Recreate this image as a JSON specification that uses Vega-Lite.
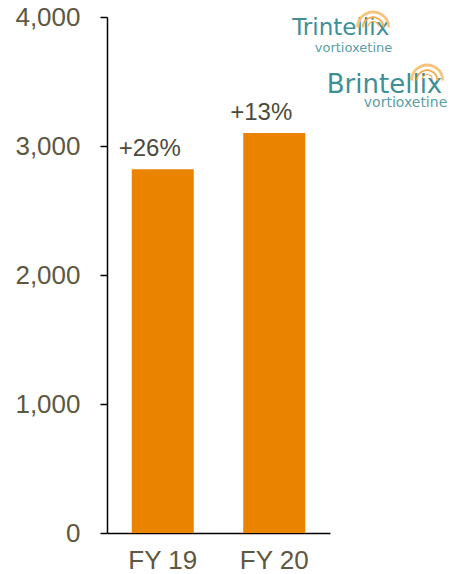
{
  "$schema": "https://vega.github.io/schema/vega-lite/v6.json",
  "width": 223,
  "height": 516,
  "autosize": "none",
  "padding": {"left": 107, "top": 17, "right": 124, "bottom": 41},
  "background": "white",
  "config": {"view": {"stroke": null}, "font": "Liberation Sans"},
  "data": {"values": [
    {"year": "FY 19", "value": 2820, "growth": "+26%"},
    {"year": "FY 20", "value": 3100, "growth": "+13%"}
  ]},
  "encoding": {
    "x": {"field": "year", "type": "nominal", "sort": null,
      "scale": {"paddingInner": 0, "paddingOuter": 0},
      "axis": {"title": null, "labelAngle": 0, "ticks": false, "labelFontSize": 26, "labelColor": "#5e5741", "labelPadding": 14, "domainColor": "#000000", "domainWidth": 1.5}},
    "y": {"field": "value", "type": "quantitative",
      "scale": {"domain": [0, 4000], "nice": false},
      "axis": {"title": null, "values": [0, 1000, 2000, 3000, 4000], "format": ",.0f", "grid": false, "tickSize": 7, "tickColor": "#000000", "tickWidth": 1.5, "domainColor": "#000000", "domainWidth": 1.5, "labelPadding": 20, "labelFontSize": 26, "labelColor": "#5e5741"}}
  },
  "layer": [
    {"mark": {"type": "bar", "color": "#E98300", "size": 62}},
    {"mark": {"type": "text", "baseline": "alphabetic", "dy": -13, "dx": -13, "fontSize": 24, "color": "#4b4a3c"},
      "encoding": {"text": {"field": "growth"}}},
    {"data": {"values": [{"year": "FY 20", "value": 3860, "t": "Trintellix"}]},
      "mark": {"type": "text", "align": "right", "baseline": "alphabetic", "dx": 115, "fontSize": 23, "font": "DejaVu Sans", "color": "#3e8f98"},
      "encoding": {"text": {"field": "t"}}},
    {"data": {"values": [{"year": "FY 20", "value": 3729, "t": "vortioxetine"}]},
      "mark": {"type": "text", "align": "right", "baseline": "alphabetic", "dx": 118, "fontSize": 13, "font": "DejaVu Sans", "color": "#5a9ea6"},
      "encoding": {"text": {"field": "t"}}},
    {"data": {"values": [{"year": "FY 20", "value": 3411, "t": "Brintellix"}]},
      "mark": {"type": "text", "align": "right", "baseline": "alphabetic", "dx": 168, "fontSize": 26, "font": "DejaVu Sans", "color": "#3e8f98"},
      "encoding": {"text": {"field": "t"}}},
    {"data": {"values": [{"year": "FY 20", "value": 3302, "t": "vortioxetine"}]},
      "mark": {"type": "text", "align": "right", "baseline": "alphabetic", "dx": 173, "fontSize": 14, "font": "DejaVu Sans", "color": "#5a9ea6"},
      "encoding": {"text": {"field": "t"}}},
    {"data": {"values": [{"year": "FY 20", "value": 3930, "t": "◠"}]},
      "mark": {"type": "text", "baseline": "middle", "dx": 99, "fontSize": 14, "font": "DejaVu Sans", "color": "#f39a1e"},
      "encoding": {"text": {"field": "t"}}},
    {"data": {"values": [{"year": "FY 20", "value": 3930, "t": "◠"}]},
      "mark": {"type": "text", "baseline": "middle", "dx": 99, "fontSize": 29, "font": "DejaVu Sans", "color": "#f6a83e"},
      "encoding": {"text": {"field": "t"}}},
    {"data": {"values": [{"year": "FY 20", "value": 3930, "t": "◠"}]},
      "mark": {"type": "text", "baseline": "middle", "dx": 99, "fontSize": 44, "font": "DejaVu Sans", "color": "#f9c27a"},
      "encoding": {"text": {"field": "t"}}},
    {"data": {"values": [{"year": "FY 20", "value": 3520, "t": "◠"}]},
      "mark": {"type": "text", "baseline": "middle", "dx": 153, "fontSize": 14, "font": "DejaVu Sans", "color": "#f39a1e"},
      "encoding": {"text": {"field": "t"}}},
    {"data": {"values": [{"year": "FY 20", "value": 3520, "t": "◠"}]},
      "mark": {"type": "text", "baseline": "middle", "dx": 153, "fontSize": 29, "font": "DejaVu Sans", "color": "#f6a83e"},
      "encoding": {"text": {"field": "t"}}},
    {"data": {"values": [{"year": "FY 20", "value": 3520, "t": "◠"}]},
      "mark": {"type": "text", "baseline": "middle", "dx": 153, "fontSize": 44, "font": "DejaVu Sans", "color": "#f9c27a"},
      "encoding": {"text": {"field": "t"}}}
  ]
}
